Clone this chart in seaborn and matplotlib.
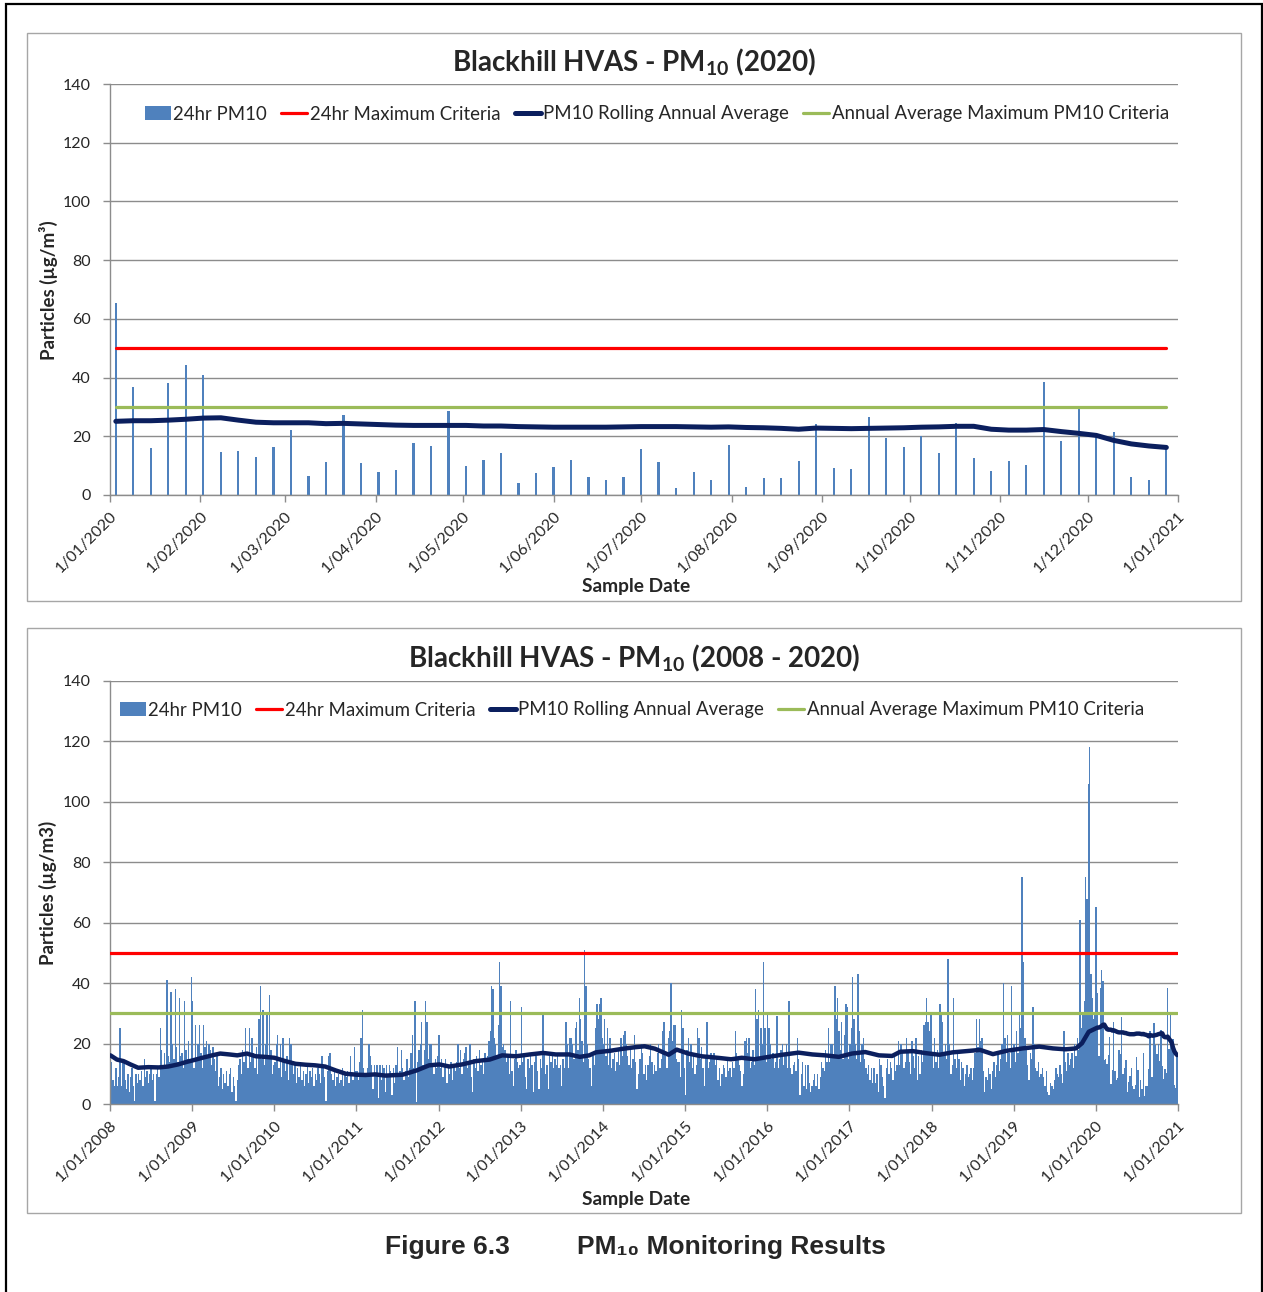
import pandas as pd
import matplotlib
matplotlib.use("Agg")
import matplotlib.pyplot as plt
import matplotlib.dates as mdates
from matplotlib.ticker import FuncFormatter
from matplotlib.patches import Patch, Rectangle
from matplotlib.lines import Line2D
import seaborn as sns

# ---------------- data (24hr PM10, one sample every 6 days, from Jan 3 each year) ----------------
pm10_2008 = [16, 14, 8, 6, 12, 6, 9, 25, 6, 15, 14, 8, 5, 10, 4, 9, 12, 6, 1, 10,
             7, 10, 8, 11, 6, 15, 9, 11, 7, 10, 12, 8, 10, 1, 10, 12, 9, 25, 18, 13,
             17, 12, 41, 16, 14, 37, 20, 15, 38, 19, 14, 35, 16, 17, 12, 34, 18, 15, 21, 14, 42]
pm10_2009 = [34, 12, 26, 15, 20, 26, 17, 12, 26, 19, 21, 16, 20, 18, 13, 19, 15, 11, 17, 6,
             9, 12, 5, 10, 7, 11, 6, 10, 12, 4, 9, 6, 1, 8, 13, 15, 10, 18, 14, 25,
             16, 12, 25, 14, 22, 17, 12, 19, 10, 28, 39, 15, 31, 13, 20, 30, 16, 36, 18, 10, 13]
pm10_2010 = [14, 20, 23, 12, 20, 9, 22, 15, 11, 16, 8, 22, 20, 13, 10, 14, 7, 12, 9, 14,
             8, 11, 6, 10, 13, 7, 11, 9, 12, 6, 10, 8, 12, 10, 7, 16, 12, 9, 1, 11,
             16, 17, 10, 8, 11, 6, 9, 10, 7, 8, 12, 6, 10, 9, 11, 7, 16, 10, 8, 19, 11]
pm10_2011 = [11, 8, 14, 22, 31, 12, 9, 10, 12, 20, 16, 13, 5, 13, 10, 13, 2, 13, 8, 13,
             12, 4, 13, 9, 13, 11, 3, 12, 7, 13, 19, 9, 11, 18, 12, 8, 11, 15, 9, 12,
             17, 23, 12, 34, 0.5, 14, 18, 20, 27, 13, 18, 34, 27, 15, 20, 20, 13, 10, 15, 12, 16]
pm10_2012 = [23, 12, 15, 9, 13, 15, 7, 12, 10, 14, 8, 13, 11, 14, 20, 12, 18, 10, 15, 17,
             19, 12, 14, 20, 9, 4, 15, 12, 16, 11, 18, 13, 15, 10, 17, 14, 16, 21, 24, 39,
             38, 22, 20, 15, 26, 47, 39, 19, 20, 18, 14, 16, 10, 34, 11, 6, 15, 18, 14, 12, 13]
pm10_2013 = [32, 14, 16, 9, 5, 15, 12, 17, 13, 4, 14, 16, 11, 5, 15, 12, 30, 17, 10, 13,
             5, 16, 14, 17, 12, 15, 13, 16, 12, 13, 6, 15, 12, 27, 20, 12, 22, 22, 20, 15,
             25, 27, 18, 35, 28, 21, 14, 51, 39, 20, 15, 12, 6, 16, 13, 25, 33, 28, 33, 35, 22]
pm10_2014 = [20, 28, 16, 25, 13, 22, 12, 15, 17, 11, 14, 18, 13, 22, 16, 23, 24, 20, 16, 13,
             18, 12, 15, 23, 14, 5, 10, 15, 20, 17, 10, 13, 8, 13, 16, 20, 14, 10, 13, 11,
             17, 20, 12, 15, 24, 27, 16, 12, 22, 24, 40, 21, 26, 26, 15, 14, 14, 9, 31, 25, 12]
pm10_2015 = [3, 18, 22, 14, 20, 12, 16, 10, 13, 25, 22, 15, 19, 12, 6, 16, 27, 12, 14, 17,
             15, 17, 13, 16, 8, 12, 6, 10, 13, 12, 9, 15, 11, 12, 9, 14, 12, 24, 17, 15,
             13, 11, 6, 10, 21, 22, 17, 22, 12, 14, 18, 13, 38, 28, 31, 15, 25, 20, 47, 25, 14]
pm10_2016 = [30, 25, 20, 15, 17, 12, 14, 29, 12, 15, 18, 20, 13, 17, 20, 12, 34, 12, 10, 13,
             14, 11, 22, 15, 3, 10, 14, 6, 13, 5, 13, 7, 4, 6, 8, 10, 6, 10, 5, 9,
             14, 12, 11, 18, 14, 25, 14, 20, 20, 16, 39, 28, 35, 24, 18, 27, 15, 23, 33, 32, 15]
pm10_2017 = [20, 25, 42, 28, 20, 15, 43, 24, 14, 20, 22, 15, 12, 10, 13, 8, 12, 7, 12, 7,
             10, 4, 15, 13, 9, 6, 2, 12, 15, 10, 14, 12, 8, 16, 11, 13, 21, 13, 20, 17,
             12, 14, 22, 18, 14, 10, 21, 16, 12, 22, 8, 16, 10, 18, 14, 26, 27, 35, 27, 24, 30]
pm10_2018 = [16, 12, 22, 14, 18, 12, 33, 30, 27, 17, 20, 15, 48, 20, 10, 13, 35, 15, 12, 17,
             15, 8, 14, 12, 6, 10, 13, 9, 10, 12, 8, 12, 17, 28, 19, 28, 21, 22, 11, 4,
             9, 8, 12, 10, 5, 11, 14, 9, 13, 17, 11, 15, 20, 40, 22, 14, 23, 17, 12, 39, 18]
pm10_2019 = [20, 14, 24, 17, 30, 25, 75, 47, 22, 18, 13, 8, 17, 15, 32, 20, 12, 11, 14, 9,
             10, 12, 9, 6, 11, 4, 3, 7, 6, 5, 8, 12, 10, 9, 13, 10, 7, 24, 14, 11,
             17, 13, 15, 17, 12, 20, 16, 22, 18, 61, 25, 30, 34, 75, 68, 106, 118, 43, 35, 28, 30]
pm10_2020 = [65.3, 36.8, 15.9, 38.3, 44.4, 40.8, 14.5, 14.9, 13.1, 16.2,
             22.3, 6.5, 11.1, 27.2, 10.9, 7.8, 8.6, 17.8, 16.6, 28.7,
             10.0, 11.8, 14.4, 4.1, 7.4, 9.4, 11.9, 6.1, 5.1, 6.3,
             15.6, 11.1, 2.3, 7.9, 5.0, 16.9, 2.8, 5.9, 5.8, 11.7,
             24.3, 9.1, 8.9, 26.7, 19.5, 16.4, 20.0, 14.3, 24.6, 12.7,
             8.2, 11.6, 10.2, 38.4, 18.3, 30.2, 20.8, 21.5, 6.3, 5.2, 15.9]

# rolling annual average for each 2020 sample
rolling_2020 = [25.1, 25.3, 25.3, 25.5, 25.8, 26.2, 26.3, 25.5, 24.8, 24.6,
                24.6, 24.6, 24.3, 24.4, 24.2, 24.0, 23.8, 23.7, 23.7, 23.7,
                23.7, 23.5, 23.5, 23.3, 23.2, 23.1, 23.1, 23.1, 23.1, 23.2,
                23.3, 23.3, 23.3, 23.2, 23.1, 23.2, 23.0, 22.9, 22.7, 22.4,
                22.8, 22.7, 22.6, 22.7, 22.8, 22.9, 23.1, 23.2, 23.4, 23.4,
                22.4, 22.1, 22.1, 22.3, 21.6, 21.0, 20.3, 18.6, 17.4, 16.7, 16.2]

# rolling annual average 2008-2019 (read at roughly monthly points)
rolling_hist_dates = [
    "2008-01-03", "2008-02-01", "2008-03-01", "2008-04-01", "2008-05-05", "2008-06-20",
    "2008-08-05", "2008-09-15", "2008-10-30", "2008-12-05", "2009-01-01", "2009-02-15",
    "2009-03-30", "2009-05-05", "2009-06-15", "2009-07-20", "2009-09-01", "2009-10-10",
    "2009-11-20", "2010-01-01", "2010-02-18", "2010-04-05", "2010-05-20", "2010-07-01",
    "2010-08-15", "2010-10-01", "2010-11-15", "2011-01-01", "2011-02-10", "2011-03-25",
    "2011-05-10", "2011-07-25", "2011-09-25", "2011-11-20", "2012-01-05", "2012-02-18",
    "2012-04-15", "2012-06-15", "2012-08-15", "2012-10-10", "2012-12-10", "2013-02-10",
    "2013-04-10", "2013-06-05", "2013-08-05", "2013-09-20", "2013-11-01", "2013-12-01",
    "2014-02-01", "2014-04-01", "2014-05-25", "2014-07-05", "2014-08-20", "2014-10-20",
    "2014-11-25", "2015-01-15", "2015-03-15", "2015-05-25", "2015-07-25", "2015-09-10",
    "2015-11-05", "2016-01-08", "2016-03-08", "2016-05-20", "2016-07-20", "2016-09-15",
    "2016-11-15", "2017-01-12", "2017-03-12", "2017-05-12", "2017-07-10", "2017-08-15",
    "2017-10-10", "2017-12-10", "2018-02-05", "2018-04-05", "2018-06-05", "2018-08-05",
    "2018-10-01", "2018-11-30", "2019-02-10", "2019-04-25", "2019-06-25", "2019-08-20",
    "2019-10-05", "2019-11-01", "2019-12-01"]
rolling_hist = [
    16.1, 14.7, 14.2, 13.1, 12.0, 12.2, 12.1, 12.4, 13.1, 13.9, 14.4, 15.3,
    16.1, 16.7, 16.4, 16.1, 16.7, 15.8, 15.6, 15.3, 14.2, 13.3, 13.0, 12.8,
    12.4, 11.1, 10.0, 9.7, 9.6, 9.8, 9.4, 9.7, 11.1, 12.8, 13.1, 12.4,
    13.1, 14.2, 14.7, 16.1, 15.8, 16.4, 16.9, 16.4, 16.4, 15.6, 16.1, 17.1,
    17.6, 18.3, 18.8, 19.1, 18.3, 16.3, 18.0, 16.7, 15.8, 15.3, 14.8, 15.3,
    14.8, 15.6, 16.3, 17.0, 16.4, 16.1, 15.6, 16.7, 17.2, 16.1, 15.9, 17.3,
    17.5, 16.8, 16.3, 17.1, 17.5, 17.9, 16.5, 17.6, 18.4, 19.0, 18.4, 18.1,
    18.4, 20.1, 23.9]

years = list(range(2008, 2021))
pm10_by_year = [pm10_2008, pm10_2009, pm10_2010, pm10_2011, pm10_2012, pm10_2013, pm10_2014,
                pm10_2015, pm10_2016, pm10_2017, pm10_2018, pm10_2019, pm10_2020]

max_criteria = 50
annual_criteria = 30

legend_labels = ["24hr PM10", "24hr Maximum Criteria", "PM10 Rolling Annual Average",
                 "Annual Average Maximum PM10 Criteria"]

# ---------------- build tables ----------------
frames = []
for y, vals in zip(years, pm10_by_year):
    frames.append(pd.DataFrame({"date": pd.date_range(f"{y}-01-03", periods=len(vals), freq="6D"),
                                "pm10": vals}))
samples = pd.concat(frames, ignore_index=True)
s2020 = frames[-1]
roll2020 = pd.DataFrame({"date": s2020["date"], "avg": rolling_2020})
roll_all = pd.concat([pd.DataFrame({"date": pd.to_datetime(rolling_hist_dates), "avg": rolling_hist}),
                      roll2020], ignore_index=True)

# ---------------- style ----------------
sns.set_theme(style="white")
plt.rcParams["font.family"] = ["Lato", "DejaVu Sans"]
plt.rcParams["mathtext.fontset"] = "custom"
plt.rcParams["mathtext.rm"] = "Lato"
plt.rcParams["mathtext.bf"] = "Lato:bold"

BAR = "#4F81BD"
RED = "#FF0000"
NAVY = "#0B1F5E"
GREEN = "#9BBB59"
GRID = "#8C8C8C"

W, H = 1263, 1292
fig = plt.figure(figsize=(W / 100, H / 100), dpi=100)
fig.patch.set_facecolor("white")

# outer frame and chart frames
fig.add_artist(Rectangle((6 / W, -0.02), 1256 / W, 1.02 - 4 / H, transform=fig.transFigure,
                         fill=False, ec="black", lw=1.6))
for (x0, y0, x1, y1) in [(27, 33, 1241, 601), (27, 628, 1241, 1213)]:
    fig.add_artist(Rectangle((x0 / W, 1 - y1 / H), (x1 - x0) / W, (y1 - y0) / H,
                             transform=fig.transFigure, fill=False, ec="#A6A6A6", lw=1.0))

ax1 = fig.add_axes([110 / W, 1 - 495 / H, (1178 - 110) / W, (495 - 84) / H])
ax2 = fig.add_axes([110 / W, 1 - 1104 / H, (1178 - 110) / W, (1104 - 681) / H])

fmt = FuncFormatter(lambda v, p: (lambda d: f"{d.day}/{d.month:02d}/{d.year}")(mdates.num2date(v)))


def draw(ax, data, roll, bar_w, roll_lw, xmin, xmax, locator):
    ax.bar(data["date"], data["pm10"], width=bar_w, color=BAR, linewidth=0, zorder=2)
    d0, d1 = data["date"].iloc[0], data["date"].iloc[-1]
    sns.lineplot(x=[d0, d1], y=[max_criteria, max_criteria], ax=ax, color=RED, lw=2.3, zorder=3)
    sns.lineplot(x=[d0, d1], y=[annual_criteria, annual_criteria], ax=ax, color=GREEN, lw=2.3, zorder=3)
    sns.lineplot(x=roll["date"], y=roll["avg"], ax=ax, color=NAVY, lw=roll_lw, sort=False, zorder=4)
    ax.set_xlim(pd.Timestamp(xmin), pd.Timestamp(xmax))
    ax.set_ylim(0, 140)
    ax.set_yticks(range(0, 141, 20))
    ax.xaxis.set_major_locator(locator)
    ax.xaxis.set_major_formatter(fmt)
    ax.grid(axis="y", color=GRID, lw=1.0, zorder=0)
    ax.grid(axis="x", visible=False)
    ax.set_axisbelow(True)
    for s in ["top", "right"]:
        ax.spines[s].set_visible(False)
    for s in ["left", "bottom"]:
        ax.spines[s].set_color(GRID)
        ax.spines[s].set_linewidth(1.0)
    ax.tick_params(axis="y", length=5, width=1, color=GRID, pad=9, labelsize=11.5, left=True)
    ax.tick_params(axis="x", length=5, width=1, color=GRID, pad=5, labelsize=11.5, bottom=True)
    for lab in ax.get_xticklabels():
        lab.set_rotation(45)
        lab.set_ha("right")
        lab.set_rotation_mode("anchor")
    ax.set_xlabel("")
    ax.set_ylabel("")


draw(ax1, s2020, roll2020, 0.75, 3.6, "2020-01-01", "2021-01-01", mdates.MonthLocator())
draw(ax2, samples, roll_all, 6.0, 3.2, "2008-01-01", "2021-01-01", mdates.YearLocator(1))

handles = [Patch(facecolor=BAR, edgecolor="none"),
           Line2D([], [], color=RED, lw=2.3),
           Line2D([], [], color=NAVY, lw=3.6),
           Line2D([], [], color=GREEN, lw=2.3)]

for ax, cx, cy in [(ax1, 657, 114), (ax2, 632, 710)]:
    ax.legend(handles, legend_labels, loc="center", bbox_to_anchor=(cx / W, 1 - cy / H),
              bbox_transform=fig.transFigure, ncol=4, frameon=False, fontsize=13.4,
              handlelength=1.4, handletextpad=0.15, columnspacing=0.75, borderpad=0)

# titles and axis labels
fig.text(634 / W, 1 - 62 / H, r"Blackhill HVAS - PM$_{\mathbf{10}}$ (2020)", ha="center", va="center",
         fontsize=20, fontweight="bold")
fig.text(634 / W, 1 - 658 / H, r"Blackhill HVAS - PM$_{\mathbf{10}}$ (2008 - 2020)", ha="center",
         va="center", fontsize=20, fontweight="bold")
fig.text(48 / W, 1 - 290 / H, "Particles (µg/m³)", rotation=90, ha="center", va="center",
         fontsize=13.5, fontweight="bold")
fig.text(48 / W, 1 - 893 / H, "Particles (µg/m3)", rotation=90, ha="center", va="center",
         fontsize=13.5, fontweight="bold")
fig.text(636 / W, 1 - 587 / H, "Sample Date", ha="center", va="center", fontsize=13.8, fontweight="bold")
fig.text(636 / W, 1 - 1199 / H, "Sample Date", ha="center", va="center", fontsize=13.8, fontweight="bold")

# figure caption
cap_font = ["Liberation Sans", "DejaVu Sans"]
fig.text(385 / W, 1 - 1247 / H, "Figure 6.3", ha="left", va="center", fontsize=19,
         fontweight="bold", family=cap_font)
fig.text(577 / W, 1 - 1247 / H, "PM₁₀ Monitoring Results", ha="left", va="center", fontsize=19,
         fontweight="bold", family=cap_font)

fig.savefig("out.png", dpi=100, facecolor="white")
